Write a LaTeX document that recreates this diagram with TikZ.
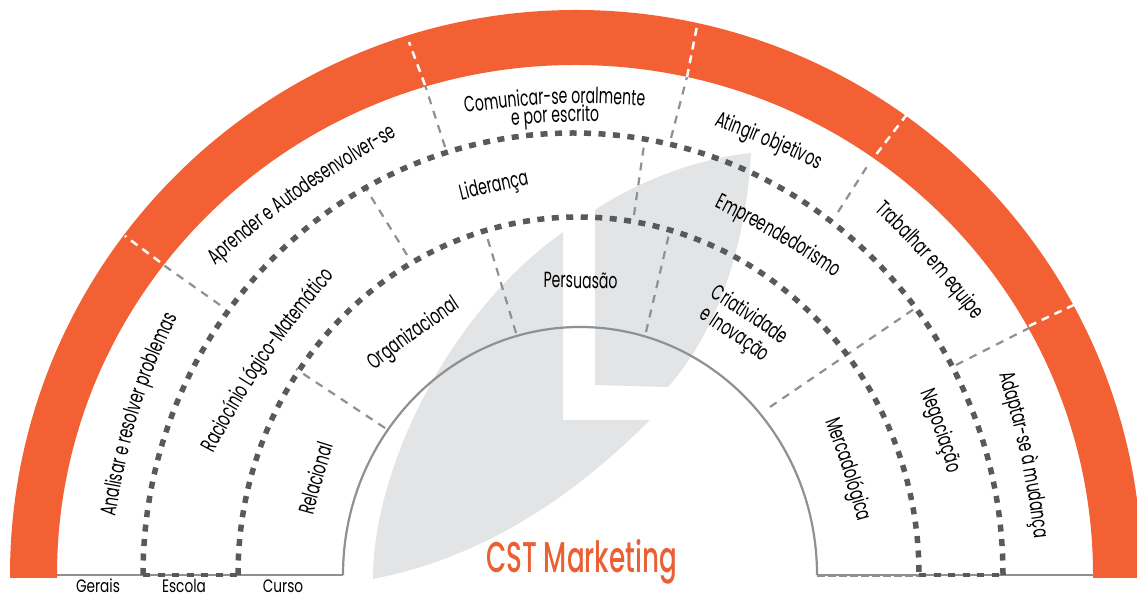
\documentclass[tikz,border=0pt]{standalone}
\usepackage{fontspec}
\usetikzlibrary{calc,decorations.text}
\newfontfamily\futfont[FakeStretch=0.64]{Poppins}
\newfontfamily\futbase[FakeStretch=0.76]{Poppins}
\newfontfamily\futmark[FakeStretch=0.61]{Poppins Medium}
\definecolor{laranja}{HTML}{F26033}
\definecolor{marca}{HTML}{EA6035}
\definecolor{folha}{HTML}{E3E4E5}
\definecolor{pontos}{HTML}{58595B}
\definecolor{fio}{HTML}{8F9092}
\tikzset{
  pontilhado/.style={draw=pontos,line width=5.5pt,dash pattern=on 7pt off 7.5pt},
  fino/.style={draw=fio,line width=2.2pt},
  sep/.style={draw=fio,line width=2.2pt,dash pattern=on 8pt off 7pt},
  sepb/.style={draw=white,line width=2.5pt,dash pattern=on 8pt off 6pt},
  legenda/.style={font=\futbase\fontsize{18}{18}\selectfont,text=black,inner sep=0pt,anchor=base}
}
% #1 x1, #2 y1, #3 x2, #4 y2 in image pixels, #5 bend, #6 text
\newcommand{\rotulo}[6]{%
  \path[decorate,decoration={text along path,text align=center,
    text={|\futfont\fontsize{22}{22}\selectfont|#6}}]
    ($(#1,599-#2)!-30pt!(#3,599-#4)$) to[bend left=#5] ($(#3,599-#4)!-30pt!(#1,599-#2)$);}
\newcommand{\px}[2]{(#1,{599-#2})}
\begin{document}
\begin{tikzpicture}[x=1pt,y=1pt]
\useasboundingbox (0,0) rectangle (1137,599);
% leaves
\fill[folha] \px{373}{579} .. controls \px{372}{480} and \px{440}{320} .. \px{563}{232}
  -- \px{563}{420} -- \px{650}{420} .. controls \px{560}{510} and \px{470}{560} .. cycle;
\fill[folha] \px{595}{385} -- \px{595}{210} .. controls \px{640}{180} and \px{700}{158} .. \px{751}{153}
  .. controls \px{745}{260} and \px{710}{340} .. \px{668}{387} -- cycle;
% orange band
\fill[laranja] (10,21) -- (10,24) arc[start angle=180,end angle=0,x radius=566,y radius=565]
  -- (1142,21) -- (1093,21) -- (1093,24) arc[start angle=0,end angle=180,x radius=518,y radius=510] -- (57,21) -- cycle;
% inner arc and base
\draw[fino] (343,24) arc[start angle=180,end angle=0,x radius=237,y radius=248];
\draw[fino] (57,24) -- (343,24);
\draw[fino] (817,24) -- (1094,24);
\draw[draw=fio,line width=1.2pt,dash pattern=on 8pt off 3pt] (817,22.5) -- (919,22.5);
% separators
\draw[sep] \px{385}{428} -- \px{296}{369};
\draw[sep] \px{516}{333} -- \px{485}{230};
\draw[sep] \px{646}{332} -- \px{670}{230};
\draw[sep] \px{770}{407} -- \px{917}{307};
\draw[sep] \px{407}{255} -- \px{365}{187};
\draw[sep] \px{634}{215} -- \px{645}{138};
\draw[sep] \px{220}{305} -- \px{162}{264};
\draw[sep] \px{956}{365} -- \px{1029}{328};
\draw[sep] \px{838}{212} -- \px{868}{165};
\draw[sep] \px{445}{147} -- \px{425}{85};
\draw[sep] \px{671}{138} -- \px{687}{77};
\draw[sepb] \px{160}{262} -- \px{125}{236};
\draw[sepb] \px{1029}{326} -- \px{1078}{303};
\draw[sepb] \px{868}{165} -- \px{908}{113};
\draw[sepb] \px{425}{85} -- \px{409}{42};
\draw[sepb] \px{687}{77} -- \px{697}{26};
% dotted rings
\draw[pontilhado] (143,24) arc[start angle=180,end angle=0,x radius=430,y radius=442];
\draw[pontilhado] (238,24) arc[start angle=180,end angle=0,x radius=340.5,y radius=358];
\draw[draw=pontos,line width=4.5pt,dash pattern=on 7pt off 7.5pt] (143,24) -- (238,24);
\draw[draw=pontos,line width=4.5pt,dash pattern=on 7pt off 7.5pt] (919,24) -- (1003,24);
% labels along the arcs
\rotulo{120}{523}{184}{314}{10}{Analisar e resolver problemas}
\rotulo{211}{273}{406}{135}{6.5}{Aprender e Autodesenvolver-se}
\rotulo{462}{117}{648}{110}{7.5}{Comunicar-se oralmente}
\rotulo{509}{127}{602}{123}{3.5}{e por escrito}
\rotulo{707}{125}{823}{174}{4}{Atingir objetivos}
\rotulo{868}{208}{975}{327}{6}{Trabalhar em equipe}
\rotulo{996}{375}{1031}{539}{6.5}{Adaptar-se à mudança}
\rotulo{221}{447}{331}{285}{7}{Raciocínio Lógico-Matemático}
\rotulo{462}{201}{529}{186}{2}{Liderança}
\rotulo{715}{209}{833}{278}{4}{Empreendedorismo}
\rotulo{921}{397}{946}{470}{3}{Negociação}
\rotulo{314}{517}{335}{445}{2}{Relacional}
\rotulo{375}{372}{462}{309}{3.5}{Organizacional}
\rotulo{545}{288}{616}{289}{0.5}{Persuasão}
\rotulo{709}{298}{781}{346}{3}{Criatividade}
\rotulo{698}{319}{762}{363}{3}{e Inovação}
\rotulo{825}{424}{856}{520}{3}{Mercadológica}
% base labels and title
\node[legenda] (gerais) at \px{98}{593} {Gerais};
\node[legenda] (escola) at \px{184}{593} {Escola};
\node[legenda] (curso) at \px{283}{593} {Curso};
\node[anchor=base west,inner sep=0pt,text=marca,font=\futmark\fontsize{43}{43}\selectfont] (titulo) at \px{486}{573} {CST Marketing};
\end{tikzpicture}
\end{document}
